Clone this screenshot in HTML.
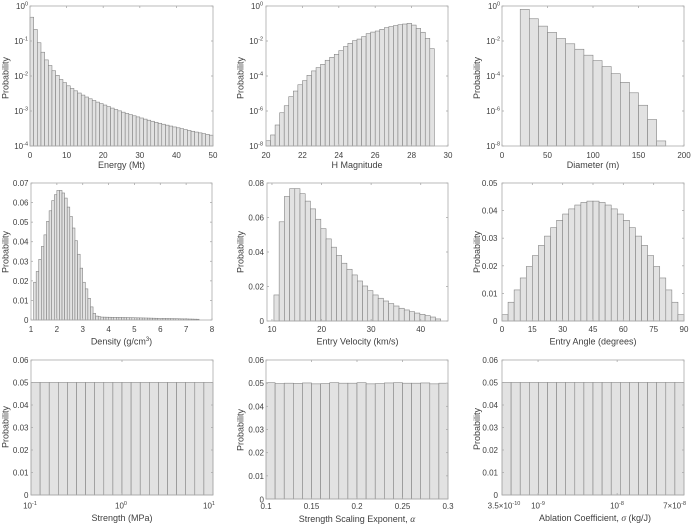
<!DOCTYPE html>
<html>
<head>
<meta charset="utf-8">
<style>
html,body{margin:0;padding:0;background:#fff;}
svg{display:block;}
text{font-family:"Liberation Sans",Arial,sans-serif;fill:#404040;}
.t{font-size:8px;}
.l{font-size:9px;}
.m{font-family:"Liberation Serif",serif;font-style:italic;}
</style>
</head>
<body>
<svg id="s" xmlns="http://www.w3.org/2000/svg" width="700" height="525" viewBox="0 0 700 525">
<rect width="700" height="525" fill="#fff"/>
<g id="bars"></g>
<g fill="none" stroke="#aaa" stroke-width="0.8">
<rect x="30" y="6" width="183" height="140"/>
<rect x="266" y="6" width="182" height="140"/>
<rect x="502" y="6" width="182" height="140"/>
<rect x="31" y="183" width="181" height="137"/>
<rect x="267" y="183" width="181" height="138"/>
<rect x="502" y="183" width="182" height="138"/>
<rect x="31" y="360" width="182" height="135"/>
<rect x="266" y="360" width="182" height="139"/>
<rect x="502" y="360" width="182" height="135"/>
</g>
<g id="ticks" stroke="#aaa" stroke-width="0.8"></g>

<!-- Panel 1 -->
<g class="t">
<text x="28" y="9" text-anchor="end">10<tspan font-size="5.5" dy="-3.5">0</tspan></text>
<text x="28" y="44" text-anchor="end">10<tspan font-size="5.5" dy="-3.5">-1</tspan></text>
<text x="28" y="79" text-anchor="end">10<tspan font-size="5.5" dy="-3.5">-2</tspan></text>
<text x="28" y="114" text-anchor="end">10<tspan font-size="5.5" dy="-3.5">-3</tspan></text>
<text x="28" y="149" text-anchor="end">10<tspan font-size="5.5" dy="-3.5">-4</tspan></text>
<text x="30" y="158" text-anchor="middle">0</text>
<text x="66.6" y="158" text-anchor="middle">10</text>
<text x="103.2" y="158" text-anchor="middle">20</text>
<text x="139.8" y="158" text-anchor="middle">30</text>
<text x="176.4" y="158" text-anchor="middle">40</text>
<text x="213" y="158" text-anchor="middle">50</text>
</g>
<text class="l" x="121.5" y="168" text-anchor="middle">Energy (Mt)</text>
<text class="l" x="8.5" y="78" text-anchor="middle" transform="rotate(-90 8.5 78)">Probability</text>

<!-- Panel 2 -->
<g class="t">
<text x="263" y="9" text-anchor="end">10<tspan font-size="5.5" dy="-3.5">0</tspan></text>
<text x="263" y="44" text-anchor="end">10<tspan font-size="5.5" dy="-3.5">-2</tspan></text>
<text x="263" y="79" text-anchor="end">10<tspan font-size="5.5" dy="-3.5">-4</tspan></text>
<text x="263" y="114" text-anchor="end">10<tspan font-size="5.5" dy="-3.5">-6</tspan></text>
<text x="263" y="149" text-anchor="end">10<tspan font-size="5.5" dy="-3.5">-8</tspan></text>
<text x="266" y="158" text-anchor="middle">20</text>
<text x="302.4" y="158" text-anchor="middle">22</text>
<text x="338.8" y="158" text-anchor="middle">24</text>
<text x="375.2" y="158" text-anchor="middle">26</text>
<text x="411.6" y="158" text-anchor="middle">28</text>
<text x="448" y="158" text-anchor="middle">30</text>
</g>
<text class="l" x="357" y="168" text-anchor="middle">H Magnitude</text>
<text class="l" x="243.5" y="78" text-anchor="middle" transform="rotate(-90 243.5 78)">Probability</text>

<!-- Panel 3 -->
<g class="t">
<text x="500" y="9" text-anchor="end">10<tspan font-size="5.5" dy="-3.5">0</tspan></text>
<text x="500" y="44" text-anchor="end">10<tspan font-size="5.5" dy="-3.5">-2</tspan></text>
<text x="500" y="79" text-anchor="end">10<tspan font-size="5.5" dy="-3.5">-4</tspan></text>
<text x="500" y="114" text-anchor="end">10<tspan font-size="5.5" dy="-3.5">-6</tspan></text>
<text x="500" y="149" text-anchor="end">10<tspan font-size="5.5" dy="-3.5">-8</tspan></text>
<text x="502" y="158" text-anchor="middle">0</text>
<text x="547.5" y="158" text-anchor="middle">50</text>
<text x="593" y="158" text-anchor="middle">100</text>
<text x="638.5" y="158" text-anchor="middle">150</text>
<text x="684" y="158" text-anchor="middle">200</text>
</g>
<text class="l" x="593" y="168" text-anchor="middle">Diameter (m)</text>
<text class="l" x="480" y="78" text-anchor="middle" transform="rotate(-90 480 78)">Probability</text>

<!-- Panel 4 -->
<g class="t">
<text x="28.5" y="323" text-anchor="end">0</text>
<text x="28.5" y="303.4" text-anchor="end">0.01</text>
<text x="28.5" y="283.9" text-anchor="end">0.02</text>
<text x="28.5" y="264.3" text-anchor="end">0.03</text>
<text x="28.5" y="244.7" text-anchor="end">0.04</text>
<text x="28.5" y="225.1" text-anchor="end">0.05</text>
<text x="28.5" y="205.6" text-anchor="end">0.06</text>
<text x="28.5" y="186" text-anchor="end">0.07</text>
<text x="31" y="332" text-anchor="middle">1</text>
<text x="56.9" y="332" text-anchor="middle">2</text>
<text x="82.7" y="332" text-anchor="middle">3</text>
<text x="108.6" y="332" text-anchor="middle">4</text>
<text x="134.4" y="332" text-anchor="middle">5</text>
<text x="160.3" y="332" text-anchor="middle">6</text>
<text x="186.1" y="332" text-anchor="middle">7</text>
<text x="212" y="332" text-anchor="middle">8</text>
</g>
<text class="l" x="121.5" y="344.5" text-anchor="middle">Density (g/cm<tspan font-size="6" dy="-3.5">3</tspan><tspan dy="3.5">)</tspan></text>
<text class="l" x="8.5" y="252" text-anchor="middle" transform="rotate(-90 8.5 252)">Probability</text>

<!-- Panel 5 -->
<g class="t">
<text x="264" y="324" text-anchor="end">0</text>
<text x="264" y="289.5" text-anchor="end">0.02</text>
<text x="264" y="255" text-anchor="end">0.04</text>
<text x="264" y="220.5" text-anchor="end">0.06</text>
<text x="264" y="186" text-anchor="end">0.08</text>
<text x="272" y="332" text-anchor="middle">10</text>
<text x="321.6" y="332" text-anchor="middle">20</text>
<text x="371.1" y="332" text-anchor="middle">30</text>
<text x="420.7" y="332" text-anchor="middle">40</text>
</g>
<text class="l" x="357.5" y="344.5" text-anchor="middle">Entry Velocity (km/s)</text>
<text class="l" x="243.5" y="252" text-anchor="middle" transform="rotate(-90 243.5 252)">Probability</text>

<!-- Panel 6 -->
<g class="t">
<text x="497.5" y="324" text-anchor="end">0</text>
<text x="497.5" y="296.4" text-anchor="end">0.01</text>
<text x="497.5" y="268.8" text-anchor="end">0.02</text>
<text x="497.5" y="241.2" text-anchor="end">0.03</text>
<text x="497.5" y="213.6" text-anchor="end">0.04</text>
<text x="497.5" y="186" text-anchor="end">0.05</text>
<text x="502" y="332" text-anchor="middle">0</text>
<text x="532.3" y="332" text-anchor="middle">15</text>
<text x="562.7" y="332" text-anchor="middle">30</text>
<text x="593" y="332" text-anchor="middle">45</text>
<text x="623.3" y="332" text-anchor="middle">60</text>
<text x="653.7" y="332" text-anchor="middle">75</text>
<text x="684" y="332" text-anchor="middle">90</text>
</g>
<text class="l" x="593" y="344.5" text-anchor="middle">Entry Angle (degrees)</text>
<text class="l" x="480" y="252" text-anchor="middle" transform="rotate(-90 480 252)">Probability</text>

<!-- Panel 7 -->
<g class="t">
<text x="28.5" y="498" text-anchor="end">0</text>
<text x="28.5" y="475.5" text-anchor="end">0.01</text>
<text x="28.5" y="453" text-anchor="end">0.02</text>
<text x="28.5" y="430.5" text-anchor="end">0.03</text>
<text x="28.5" y="408" text-anchor="end">0.04</text>
<text x="28.5" y="385.5" text-anchor="end">0.05</text>
<text x="28.5" y="363" text-anchor="end">0.06</text>
<text x="30" y="508.5" text-anchor="middle">10<tspan font-size="5.5" dy="-3.5">-1</tspan></text>
<text x="121" y="508.5" text-anchor="middle">10<tspan font-size="5.5" dy="-3.5">0</tspan></text>
<text x="209" y="508.5" text-anchor="middle">10<tspan font-size="5.5" dy="-3.5">1</tspan></text>
</g>
<text class="l" x="122" y="521" text-anchor="middle">Strength (MPa)</text>
<text class="l" x="8.5" y="427" text-anchor="middle" transform="rotate(-90 8.5 427)">Probability</text>

<!-- Panel 8 -->
<g class="t">
<text x="264" y="502.5" text-anchor="end">0</text>
<text x="264" y="478.8" text-anchor="end">0.01</text>
<text x="264" y="455.7" text-anchor="end">0.02</text>
<text x="264" y="432.5" text-anchor="end">0.03</text>
<text x="264" y="409.3" text-anchor="end">0.04</text>
<text x="264" y="386.2" text-anchor="end">0.05</text>
<text x="264" y="363" text-anchor="end">0.06</text>
<text x="266" y="509" text-anchor="middle">0.1</text>
<text x="311.5" y="509" text-anchor="middle">0.15</text>
<text x="357" y="509" text-anchor="middle">0.2</text>
<text x="402.5" y="509" text-anchor="middle">0.25</text>
<text x="448" y="509" text-anchor="middle">0.3</text>
</g>
<text class="l" x="357" y="522" text-anchor="middle">Strength Scaling Exponent, <tspan class="m" font-size="9.5">α</tspan></text>
<text class="l" x="243.5" y="430" text-anchor="middle" transform="rotate(-90 243.5 430)">Probability</text>

<!-- Panel 9 -->
<g class="t">
<text x="498" y="498" text-anchor="end">0</text>
<text x="498" y="475.5" text-anchor="end">0.01</text>
<text x="498" y="453" text-anchor="end">0.02</text>
<text x="498" y="430.5" text-anchor="end">0.03</text>
<text x="498" y="408" text-anchor="end">0.04</text>
<text x="498" y="385.5" text-anchor="end">0.05</text>
<text x="498" y="363" text-anchor="end">0.06</text>
<text x="504" y="508.5" text-anchor="middle">3.5×10<tspan font-size="5.5" dy="-3.5">-10</tspan></text>
<text x="538" y="508.5" text-anchor="middle">10<tspan font-size="5.5" dy="-3.5">-9</tspan></text>
<text x="617" y="508.5" text-anchor="middle">10<tspan font-size="5.5" dy="-3.5">-8</tspan></text>
<text x="686" y="508.5" text-anchor="end">7×10<tspan font-size="5.5" dy="-3.5">-8</tspan></text>
</g>
<text class="l" x="595" y="521" text-anchor="middle">Ablation Coefficient, <tspan class="m" font-size="9.5">σ</tspan> (kg/J)</text>
<text class="l" x="480" y="429" text-anchor="middle" transform="rotate(-90 480 429)">Probability</text>
</svg>

<script>
(function(){
var NS="http://www.w3.org/2000/svg";
var gb=document.getElementById("bars"), gt=document.getElementById("ticks");
function add(g,tag,a){var e=document.createElementNS(NS,tag);for(var k in a)e.setAttribute(k,a[k]);g.appendChild(e);}
function lin(a,b,p,q){return function(v){return p+(v-a)/(b-a)*(q-p);};}
function lg(v){return Math.log(v)/Math.LN10;}
function logmap(a,b,p,q){var f=lin(a,b,p,q);return function(v){return f(lg(v));};}

// Panel 1 data
var L1=[-0.32,-0.67,-1.05,-1.32,-1.54,-1.70,-1.85,-1.98,-2.10,-2.19,-2.28];
var A1=[[10.5,-2.28],[20.5,-2.83],[30.5,-3.20],[40.5,-3.48],[49.5,-3.69]];
for(var i=11;i<50;i++){var c=i+0.5;
  for(var j=0;j<A1.length-1;j++){if(c<=A1[j+1][0]||j==A1.length-2){
    var t=(Math.log(c)-Math.log(A1[j][0]))/(Math.log(A1[j+1][0])-Math.log(A1[j][0]));
    L1.push(A1[j][1]+t*(A1[j+1][1]-A1[j][1]));break;}}}
var b1=[];for(i=0;i<50;i++)b1.push([i,i+1,Math.pow(10,L1[i])]);

var L2=[-7.7,-7.37,-6.8,-6.1,-5.7,-5.18,-4.86,-4.5,-4.27,-3.96,-3.71,-3.52,-3.33,-3.1,-2.93,-2.76,-2.55,-2.32,-2.13,-1.98,-1.89,-1.75,-1.58,-1.49,-1.43,-1.33,-1.24,-1.18,-1.12,-1.07,-1.03,-0.99,-1.09,-1.28,-1.5,-1.85,-2.44];
var b2=[];for(i=0;i<L2.length;i++)b2.push([20+0.25*i,20.25+0.25*i,Math.pow(10,L2[i])]);

var L3=[-0.19,-0.73,-1.15,-1.51,-1.86,-2.16,-2.47,-2.81,-3.12,-3.46,-3.87,-4.36,-4.96,-5.67,-6.49,-7.71];
var b3=[];for(i=0;i<L3.length;i++)b3.push([20+10*i,30+10*i,Math.pow(10,L3[i])]);

var D4=[0.0193,0.0248,0.031,0.0376,0.0435,0.0504,0.0558,0.061,0.064,0.0662,0.0662,0.0649,0.0623,0.0577,0.0529,0.047,0.0405,0.0336,0.0265,0.0193,0.0159,0.0111,0.0067,0.0034,0.002,0.0017];
var T4=[[3.7,0.0015],[4.5,0.0013],[5.5,0.001],[6.5,0.0007],[7.45,0.0004]];
var b4=[];for(i=0;i<D4.length;i++)b4.push([1.1+0.1*i,1.2+0.1*i,D4[i]]);
for(i=0;i<38;i++){var x=3.75+0.1*i,h=0.0004;
  for(j=0;j<T4.length-1;j++){if(x<=T4[j+1][0]){h=T4[j][1]+(x-T4[j][0])/(T4[j+1][0]-T4[j][0])*(T4[j+1][1]-T4[j][1]);break;}}
  b4.push([3.7+0.1*i,3.8+0.1*i,h]);}

var D5=[0.0151,0.0575,0.0722,0.0767,0.0767,0.0738,0.0695,0.065,0.059,0.0535,0.0476,0.0428,0.038,0.0335,0.030,0.0267,0.0232,0.0203,0.0176,0.0151,0.0132,0.0116,0.0101,0.0087,0.0074,0.0064,0.0054,0.0046,0.0039,0.0031,0.0023,0.0012];
var b5=[];var w5=(44.03-10.4)/32;for(i=0;i<32;i++)b5.push([10.4+w5*i,10.4+w5*(i+1),D5[i]]);

var b6=[];for(i=0;i<30;i++){var cc=3*i+1.5;b6.push([3*i,3*i+3,0.0435*Math.sin(2*cc*Math.PI/180)]);}

var b7=[];for(i=0;i<20;i++)b7.push([Math.pow(10,-1+0.1*i),Math.pow(10,-0.9+0.1*i),0.05]);

var D8=[0.0502,0.0498,0.05,0.0499,0.0501,0.0497,0.0498,0.0502,0.05,0.05,0.0502,0.0497,0.0498,0.0501,0.0502,0.05,0.05,0.0501,0.0497,0.05];
var b8=[];for(i=0;i<20;i++)b8.push([0.1+0.01*i,0.11+0.01*i,D8[i]]);

var la=lg(3.5e-10),lb=lg(7e-8),b9=[];
for(i=0;i<20;i++)b9.push([Math.pow(10,la+(lb-la)*i/20),Math.pow(10,la+(lb-la)*(i+1)/20),0.05]);

var P=[
 {x0:30,x1:213,y0:6,y1:146,fx:lin(0,50,30,213),fy:logmap(-4,0,146,6),xt:[0,10,20,30,40,50],yt:[1e-4,1e-3,1e-2,1e-1,1],b:b1},
 {x0:266,x1:448,y0:6,y1:146,fx:lin(20,30,266,448),fy:logmap(-8,0,146,6),xt:[20,22,24,26,28,30],yt:[1e-8,1e-6,1e-4,1e-2,1],b:b2},
 {x0:502,x1:684,y0:6,y1:146,fx:lin(0,200,502,684),fy:logmap(-8,0,146,6),xt:[0,50,100,150,200],yt:[1e-8,1e-6,1e-4,1e-2,1],b:b3},
 {x0:31,x1:212,y0:183,y1:320,fx:lin(1,8,31,212),fy:lin(0,0.07,320,183),xt:[1,2,3,4,5,6,7,8],yt:[0,.01,.02,.03,.04,.05,.06,.07],b:b4},
 {x0:267,x1:448,y0:183,y1:321,fx:lin(9,45.5,267,448),fy:lin(0,0.08,321,183),xt:[10,20,30,40],yt:[0,.02,.04,.06,.08],b:b5},
 {x0:502,x1:684,y0:183,y1:321,fx:lin(0,90,502,684),fy:lin(0,0.05,321,183),xt:[0,15,30,45,60,75,90],yt:[0,.01,.02,.03,.04,.05],b:b6},
 {x0:31,x1:213,y0:360,y1:495,fx:logmap(-1,1,31,213),fy:lin(0,0.06,495,360),xt:[0.1,1,10],yt:[0,.01,.02,.03,.04,.05,.06],b:b7},
 {x0:266,x1:448,y0:360,y1:499,fx:lin(0.1,0.3,266,448),fy:lin(0,0.06,499,360),xt:[0.1,0.15,0.2,0.25,0.3],yt:[0,.01,.02,.03,.04,.05,.06],b:b8},
 {x0:502,x1:684,y0:360,y1:495,fx:logmap(la,lb,502,684),fy:lin(0,0.06,495,360),xt:[3.5e-10,1e-9,1e-8,7e-8],yt:[0,.01,.02,.03,.04,.05,.06],b:b9}
];
P.forEach(function(p){
  p.b.forEach(function(b){
    var xa=p.fx(b[0]),xb=p.fx(b[1]),yt=Math.max(p.y0,p.fy(b[2]));
    add(gb,"rect",{x:xa.toFixed(2),y:yt.toFixed(2),width:(xb-xa).toFixed(2),height:(p.y1-yt).toFixed(2),fill:"#e2e2e2",stroke:"#7c7c7c","stroke-width":"0.55"});
  });
  p.xt.forEach(function(v){var x=p.fx(v);
    add(gt,"line",{x1:x,y1:p.y1,x2:x,y2:p.y1-2});
    add(gt,"line",{x1:x,y1:p.y0,x2:x,y2:p.y0+2});});
  p.yt.forEach(function(v){var y=p.fy(v);
    add(gt,"line",{x1:p.x0,y1:y,x2:p.x0+2,y2:y});
    add(gt,"line",{x1:p.x1,y1:y,x2:p.x1-2,y2:y});});
});
})();
</script>
</body>
</html>
